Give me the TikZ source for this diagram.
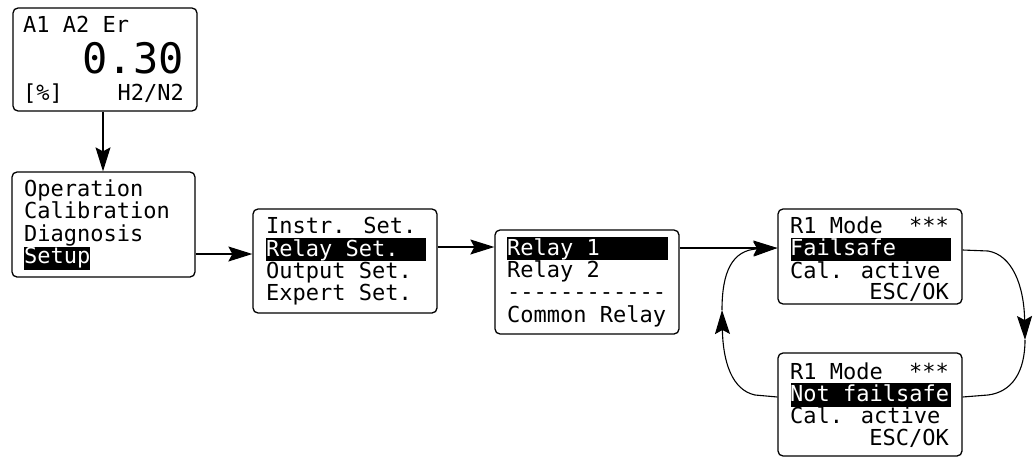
\documentclass[tikz,border=0pt]{standalone}
\usepackage{fontspec}
\newfontfamily\lcd{DejaVu Sans Mono}
\usetikzlibrary{arrows.meta}
\begin{document}
\begin{tikzpicture}[x=1pt,y=-1pt,
 panel/.style={draw, line width=1.3pt, rounded corners=5pt, inner sep=0pt},
 txt/.style={inner sep=0pt, anchor=base west, font=\lcd\fontsize{22}{22}\selectfont},
 txtr/.style={txt, anchor=base east},
 big/.style={inner sep=0pt, anchor=base east, font=\lcd\fontsize{42}{42}\selectfont},
 hl/.style={fill=black, inner sep=0pt, anchor=north west, minimum height=23pt},
 inv/.style={txt, text=white},
 arr/.style={line width=1.1pt, -{Stealth[length=24pt,width=15pt,inset=4pt]}},
 conn/.style={line width=1.1pt}]
\useasboundingbox (0,0) rectangle (1034,458);
% panels
\node[panel, minimum width=184pt, minimum height=103pt] (b1) at (105,59.5) {};
\node[panel, minimum width=183pt, minimum height=105pt] (b2) at (103.5,224.5) {};
\node[panel, minimum width=184pt, minimum height=104pt] (b3) at (345,261) {};
\node[panel, minimum width=184pt, minimum height=104pt] (b4) at (587,282) {};
\node[panel, minimum width=184pt, minimum height=95pt] (b5) at (870,256.5) {};
\node[panel, minimum width=184pt, minimum height=103pt] (b6) at (870,404.5) {};
% highlights
\node[hl, minimum width=66pt] (h2) at (24,247) {};
\node[hl, minimum width=160pt] (h3) at (266,238) {};
\node[hl, minimum width=161pt] (h4) at (507,237) {};
\node[hl, minimum width=160pt] (h5) at (791,238) {};
\node[hl, minimum width=160pt, minimum height=24pt] (h6) at (791,383) {};
% box 1 texts
\node[txt] (t11) at (23,32) {A1 A2 Er};
\node[big] (t12) at (184,73) {0.30};
\node[txt] (t13) at (23,100) {[\%]};
\node[txtr] (t14) at (184,100) {H2/N2};
% box 2 texts
\node[txt] (t21) at (24,196) {Operation};
\node[txt] (t22) at (24,218.5) {Calibration};
\node[txt] (t23) at (24,241) {Diagnosis};
\node[inv] (t24) at (24,263) {Setup};
% box 3 texts
\node[txt] (t31) at (266,233) {Instr. Set.};
\node[inv] (t32) at (266,256) {Relay Set.};
\node[txt] (t33) at (266,278) {Output Set.};
\node[txt] (t34) at (266,300) {Expert Set.};
% box 4 texts
\node[inv] (t41) at (507,255) {Relay 1};
\node[txt] (t42) at (507,277) {Relay 2};
\node[txt] (t43) at (507,299) {------------};
\node[txt] (t44) at (507,322) {Common Relay};
% box 5 texts
\node[txt] (t51) at (790,233) {R1 Mode};
\node[txtr] (t52) at (949,233) {***};
\node[inv] (t53) at (790,255) {Failsafe};
\node[txt] (t54) at (790,278) {Cal. active};
\node[txtr] (t55) at (949,299) {ESC/OK};
% box 6 texts
\node[txt] (t61) at (790,379) {R1 Mode};
\node[txtr] (t62) at (949,379) {***};
\node[inv] (t63) at (790,401) {Not failsafe};
\node[txt] (t64) at (790,423) {Cal. active};
\node[txtr] (t65) at (949,445) {ESC/OK};
% connectors
\coordinate (x1) at (103,0);
\coordinate (y2) at (0,254);
\coordinate (y3) at (0,247);
\coordinate (y4) at (0,248);
\coordinate (y5) at (0,250);
\coordinate (y6) at (0,397);
\coordinate (r1) at (1025,340);
\coordinate (l1) at (722,310);
\draw[arr] (b1.south -| x1) -- (b2.north -| x1);
\draw[arr] (b2.east |- y2) -- (b3.west |- y2);
\draw[arr] (b3.east |- y3) -- (b4.west |- y3);
\draw[arr] (b4.east |- y4) -- (b5.west |- y4);
% right loop
\draw[arr] (b5.east |- y5) -- (988,251) .. controls (1012,255) and (1024,285) .. (r1);
\draw[conn] (r1) .. controls (1025,372) and (1012,392) .. (988,395) -- (b6.east |- y6);
% left loop
\draw[arr] (b6.west |- y6) -- (755,395) .. controls (732,390) and (723,362) .. (l1);
\draw[arr] (l1) .. controls (722,272) and (732,250) .. (b5.west |- y4);
\end{tikzpicture}
\end{document}
